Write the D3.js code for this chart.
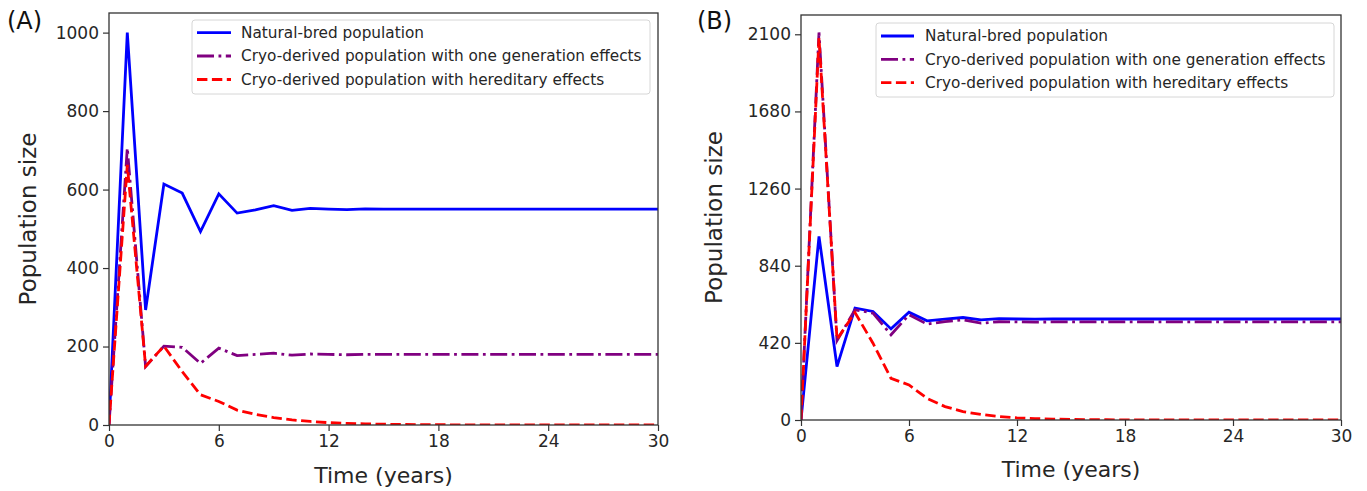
<!DOCTYPE html>
<html>
<head>
<meta charset="utf-8">
<script src="https://cdn.jsdelivr.net/npm/d3@7"></script>
<style>
  html, body { margin: 0; padding: 0; background: #fff; }
  svg { display: block; font-family: "DejaVu Sans", sans-serif; }
</style>
</head>
<body>
<svg id="chart" width="1367" height="491"></svg>
<script>
// ---------- data ----------
const years = [0,1,2,3,4,5,6,7,8,9,10,11,12,13,14,15,16,17,18,19,20,21,22,23,24,25,26,27,28,29,30];

const naturalA = [0,1000,293,614,591,493,589,540,548,559,547,552,550,549,551,550,550,550,550,550,550,550,550,550,550,550,550,550,550,550,550];
const oneGenA  = [0,706,149,201,198,157,196,177,180,183,178,181,180,179,180,180,180,180,180,180,180,180,180,180,180,180,180,180,180,180,180];
const heredA   = [0,663,150,201,136,77,60,38,27,19,13,9,6,4,3,2,1.4,1,0.7,0.5,0.3,0.2,0.1,0.1,0.1,0,0,0,0,0,0];

const naturalB = [0,1000,291,609,591,496,587,540,549,558,545,552,550,549,551,550,550,550,550,550,550,550,550,550,550,550,550,550,550,550,550];
const oneGenB  = [0,2110,432,600,582,464,573,522,536,545,527,535,534,533,534,534,534,534,534,534,534,534,534,534,534,534,534,534,534,534,534];
const heredB   = [0,2080,440,585,418,227,191,118,73,46,30,19,12,8,5,3,2,1.3,0.8,0.5,0.3,0.2,0.1,0.1,0,0,0,0,0,0,0];

const xTicks  = [0,6,12,18,24,30];
const yTicksA = [0,200,400,600,800,1000];
const yTicksB = [0,420,840,1260,1680,2100];

const seriesNames = [
  "Natural-bred population",
  "Cryo-derived population with one generation effects",
  "Cryo-derived population with hereditary effects"
];
const panelLabels = ["(A)", "(B)"];
const xTitle = "Time (years)";
const yTitle = "Population size";

// ---------- styles ----------
const styles = [
  { color: "#0000ff", dash: null },
  { color: "#800080", dash: "17,4.5,2.8,4.5" },
  { color: "#ff0000", dash: "10.4,4.5" }
];
const LW = 2.8;

const svg = d3.select("#chart");

function drawPanel(cfg) {
  const g = svg.append("g");
  const x = d3.scaleLinear().domain([0, 30]).range([cfg.left, cfg.right]);
  const y = d3.scaleLinear().domain([0, cfg.ymax]).range([cfg.bottom, cfg.top]);

  // axes
  const fmt = d3.format("d");
  const xAxis = d3.axisBottom(x).tickValues(xTicks).tickFormat(fmt).tickSize(6).tickPadding(4);
  const yAxis = d3.axisLeft(y).tickValues(cfg.yTicks).tickFormat(fmt).tickSize(6).tickPadding(4);

  const gx = g.append("g").attr("transform", `translate(0,${cfg.bottom})`).call(xAxis);
  const gy = g.append("g").attr("transform", `translate(${cfg.left},0)`).call(yAxis);
  [gx, gy].forEach(a => {
    a.select(".domain").remove();
    a.selectAll(".tick line").attr("stroke", "#333").attr("stroke-width", 1.2);
    a.selectAll(".tick text").attr("fill", "#262626").style("font-size", "17px")
      .style("font-family", "DejaVu Sans, sans-serif");
  });

  // lines
  const clipId = "clip" + cfg.id;
  g.append("clipPath").attr("id", clipId).append("rect")
    .attr("x", cfg.left).attr("y", cfg.top)
    .attr("width", cfg.right - cfg.left).attr("height", cfg.bottom - cfg.top);

  const line = d3.line().x((d, i) => x(years[i])).y(d => y(d));
  cfg.series.forEach((s, k) => {
    g.append("path").datum(s)
      .attr("clip-path", `url(#${clipId})`)
      .attr("fill", "none")
      .attr("stroke", styles[k].color)
      .attr("stroke-width", LW)
      .attr("stroke-linejoin", "miter")
      .attr("stroke-dasharray", styles[k].dash)
      .attr("d", line);
  });

  // frame
  g.append("rect")
    .attr("x", cfg.left).attr("y", cfg.top)
    .attr("width", cfg.right - cfg.left).attr("height", cfg.bottom - cfg.top)
    .attr("fill", "none").attr("stroke", "#333").attr("stroke-width", 1.3);

  // legend
  const L = cfg.legend;
  g.append("rect")
    .attr("x", L.x).attr("y", L.y).attr("width", L.w).attr("height", L.h)
    .attr("rx", 3).attr("ry", 3)
    .attr("fill", "rgba(255,255,255,0.85)").attr("stroke", "#d6d6d6").attr("stroke-width", 1);
  seriesNames.forEach((name, k) => {
    const yy = L.rowY[k];
    g.append("line")
      .attr("x1", L.hx1).attr("x2", L.hx2).attr("y1", yy).attr("y2", yy)
      .attr("stroke", styles[k].color).attr("stroke-width", LW)
      .attr("stroke-dasharray", styles[k].dash);
    g.append("text")
      .attr("x", L.tx).attr("y", yy).attr("dy", "0.35em")
      .attr("fill", "#262626").style("font-size", "15.3px")
      .text(name);
  });

  // axis titles
  g.append("text")
    .attr("x", (cfg.left + cfg.right) / 2).attr("y", cfg.xTitleY)
    .attr("text-anchor", "middle").attr("fill", "#262626")
    .style("font-size", "22px").text(xTitle);
  g.append("text")
    .attr("transform", `translate(${cfg.yTitleX},${(cfg.top + cfg.bottom) / 2}) rotate(-90)`)
    .attr("text-anchor", "middle").attr("fill", "#262626")
    .style("font-size", "23px").text(yTitle);

  // panel label
  g.append("text")
    .attr("x", cfg.labelX).attr("y", 29)
    .attr("fill", "#111").style("font-size", "24px").text(cfg.label);
}

drawPanel({
  id: "A", label: panelLabels[0],
  left: 109, right: 658, top: 13, bottom: 425, ymax: 1050,
  yTicks: yTicksA, series: [naturalA, oneGenA, heredA],
  legend: { x: 192, y: 20, w: 458, h: 74, rowY: [32.7, 56, 79.5], hx1: 197, hx2: 231, tx: 241 },
  xTitleY: 483, yTitleX: 36, labelX: 7
});

drawPanel({
  id: "B", label: panelLabels[1],
  left: 801, right: 1341, top: 15, bottom: 420, ymax: 2205,
  yTicks: yTicksB, series: [naturalB, oneGenB, heredB],
  legend: { x: 876, y: 23, w: 458, h: 74, rowY: [36, 59.3, 82.7], hx1: 881, hx2: 914, tx: 925 },
  xTitleY: 477, yTitleX: 722, labelX: 697
});
</script>
</body>
</html>
